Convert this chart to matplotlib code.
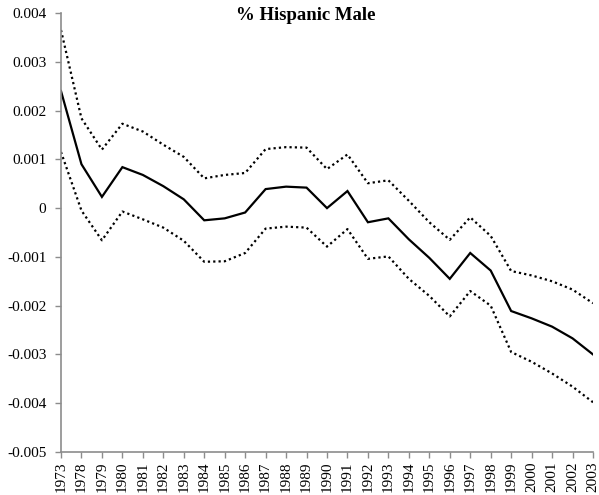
import matplotlib
matplotlib.use("Agg")
import matplotlib.pyplot as plt
import numpy as np

# Data
years = ["1973", "1978", "1979", "1980", "1981", "1982", "1983", "1984", "1985",
         "1986", "1987", "1988", "1989", "1990", "1991", "1992", "1993", "1994",
         "1995", "1996", "1997", "1998", "1999", "2000", "2001", "2002", "2003"]

estimate = [0.00240, 0.00090, 0.00023, 0.00084, 0.00068, 0.00045, 0.00018, -0.00025,
            -0.00021, -0.00009, 0.00039, 0.00044, 0.00042, 0.00000, 0.00035, -0.00029,
            -0.00021, -0.00064, -0.00102, -0.00145, -0.00092, -0.00128, -0.00211,
            -0.00226, -0.00243, -0.00267, -0.00300]

upper = [0.00365, 0.00184, 0.00120, 0.00173, 0.00157, 0.00130, 0.00105, 0.00061,
         0.00068, 0.00072, 0.00121, 0.00125, 0.00124, 0.00080, 0.00110, 0.00051,
         0.00057, 0.00015, -0.00029, -0.00065, -0.00019, -0.00057, -0.00129,
         -0.00138, -0.00150, -0.00167, -0.00195]

lower = [0.00115, -0.00005, -0.00066, -0.00007, -0.00023, -0.00040, -0.00067, -0.00110,
         -0.00109, -0.00092, -0.00042, -0.00038, -0.00040, -0.00079, -0.00043, -0.00104,
         -0.00099, -0.00145, -0.00180, -0.00222, -0.00170, -0.00200, -0.00295,
         -0.00315, -0.00339, -0.00366, -0.00398]

yticks = [0.004, 0.003, 0.002, 0.001, 0, -0.001, -0.002, -0.003, -0.004, -0.005]
ytick_labels = ["0.004", "0.003", "0.002", "0.001", "0", "-0.001", "-0.002",
                "-0.003", "-0.004", "-0.005"]

plt.rcParams['font.family'] = ['Liberation Serif', 'DejaVu Serif']

fig = plt.figure(figsize=(5.99, 4.95), dpi=100)
ax = fig.add_axes([61 / 599, 1 - 452 / 495, (593 - 61) / 599, (452 - 13) / 495])

x = np.arange(len(years))
ax.plot(x, upper, color='black', linewidth=1.6, linestyle=(0, (1, 1.4)))
ax.plot(x, lower, color='black', linewidth=1.6, linestyle=(0, (1, 1.4)))
ax.plot(x, estimate, color='black', linewidth=1.6, solid_joinstyle='miter')

ax.set_xlim(0, len(years) - 1)
ax.set_ylim(-0.005, 0.004)
ax.set_xticks(x)
ax.set_xticklabels(years, rotation=90, fontsize=11)
ax.set_yticks(yticks)
ax.set_yticklabels(ytick_labels, fontsize=11)

for side in ['top', 'right']:
    ax.spines[side].set_visible(False)
for side in ['left', 'bottom']:
    ax.spines[side].set_color('#8c8c8c')
    ax.spines[side].set_linewidth(1.2)
ax.tick_params(axis='both', colors='#8c8c8c', labelcolor='black', width=1)
ax.tick_params(axis='y', length=4.5, pad=6)
ax.tick_params(axis='x', length=4, pad=3)

fig.text(306 / 599, 1 - 15 / 495, "% Hispanic Male", ha='center', va='center',
         fontsize=13.5, fontweight='bold')

fig.savefig("out.png", dpi=100)
